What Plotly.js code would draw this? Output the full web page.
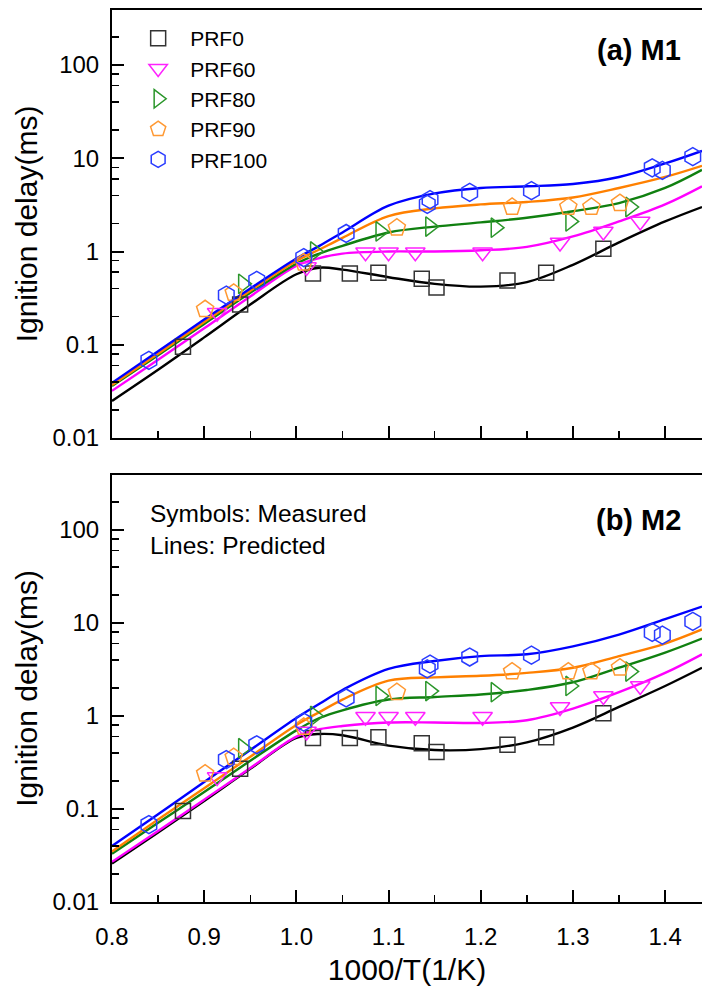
<!DOCTYPE html>
<html>
<head>
<meta charset="utf-8">
<script src="https://cdn.plot.ly/plotly-3.0.1.min.js"></script>
<style>html,body{margin:0;padding:0;background:#fff;}#chart{width:702px;height:989px;}</style>
</head>
<body>
<div id="chart"></div>
<script>
// ---- Measured data (same in both panels) ----
const seriesNames = ["PRF0", "PRF60", "PRF80", "PRF90", "PRF100"];
const prf0X = [0.877, 0.939, 1.018, 1.058, 1.089, 1.136, 1.152, 1.229, 1.271, 1.333];
const prf0Y = [0.095, 0.27, 0.58, 0.58, 0.59, 0.51, 0.41, 0.49, 0.59, 1.07];
const prf60X = [0.914, 1.011, 1.075, 1.100, 1.129, 1.202, 1.286, 1.333, 1.373];
const prf60Y = [0.22, 0.68, 0.98, 0.98, 0.98, 0.98, 1.25, 1.64, 2.1];
const prf80X = [0.942, 1.020, 1.091, 1.145, 1.216, 1.297, 1.362];
const prf80Y = [0.45, 1.0, 1.64, 1.85, 1.8, 2.1, 3.0];
const prf90X = [0.901, 0.932, 1.008, 1.109, 1.234, 1.295, 1.320, 1.351];
const prf90Y = [0.24, 0.36, 0.76, 1.8, 3.0, 3.0, 3.0, 3.3];
const prf100X = [0.840, 0.924, 0.957, 1.008, 1.054, 1.142, 1.145, 1.188, 1.255, 1.386, 1.397, 1.430];
const prf100Y = [0.068, 0.34, 0.49, 0.86, 1.56, 3.2, 3.6, 4.3, 4.5, 7.9, 7.4, 10.4];

// ---- Predicted curves ----
const curveX = [0.8, 0.85, 0.9, 0.95, 1.0, 1.025, 1.05, 1.1, 1.15, 1.2, 1.25, 1.3, 1.35, 1.4, 1.44];
// (a) M1
const m1Prf100 = [0.039, 0.085, 0.186, 0.40, 0.84, 1.15, 1.6, 3.1, 4.2, 4.8, 5.0, 5.3, 6.3, 8.8, 12];
const m1Prf90  = [0.037, 0.080, 0.175, 0.38, 0.79, 1.05, 1.4, 2.4, 2.9, 3.2, 3.4, 3.8, 4.8, 6.3, 8.3];
const m1Prf80  = [0.036, 0.077, 0.167, 0.36, 0.74, 0.95, 1.15, 1.6, 1.85, 2.05, 2.3, 2.7, 3.3, 4.8, 7.5];
const m1Prf60  = [0.032, 0.069, 0.150, 0.33, 0.70, 0.85, 0.95, 1.0, 1.0, 1.03, 1.12, 1.45, 2.1, 3.2, 5.0];
const m1Prf0   = [0.025, 0.054, 0.120, 0.27, 0.57, 0.67, 0.64, 0.53, 0.45, 0.42, 0.47, 0.72, 1.25, 2.1, 3.0];
// (b) M2
const m2Prf100 = [0.040, 0.088, 0.195, 0.43, 0.95, 1.35, 1.9, 3.2, 3.9, 4.4, 4.6, 5.6, 7.5, 11, 15];
const m2Prf90  = [0.035, 0.077, 0.167, 0.365, 0.80, 1.1, 1.5, 2.4, 2.6, 2.7, 2.9, 3.3, 4.4, 6.0, 8.5];
const m2Prf80  = [0.033, 0.071, 0.152, 0.33, 0.70, 0.95, 1.15, 1.5, 1.6, 1.7, 1.9, 2.3, 3.3, 4.8, 6.8];
const m2Prf60  = [0.027, 0.058, 0.126, 0.275, 0.60, 0.72, 0.78, 0.85, 0.85, 0.84, 0.9, 1.2, 1.8, 2.9, 4.6];
const m2Prf0   = [0.026, 0.056, 0.122, 0.27, 0.58, 0.64, 0.62, 0.48, 0.43, 0.44, 0.52, 0.75, 1.25, 2.1, 3.3];

const xTickVals = [0.8, 0.9, 1.0, 1.1, 1.2, 1.3, 1.4];
const xTickText = ["0.8", "0.9", "1.0", "1.1", "1.2", "1.3", "1.4"];
const yTickVals = [0.01, 0.1, 1, 10, 100];
const yTickText = ["0.01", "0.1", "1", "10", "100"];

const measX = [prf0X, prf60X, prf80X, prf90X, prf100X];
const measY = [prf0Y, prf60Y, prf80Y, prf90Y, prf100Y];
const symbols = ["square-open", "triangle-down-open", "triangle-right-open", "pentagon-open", "hexagon-open"];
const markerColors = ["#333333", "#ff22ff", "#2a962a", "#ff9933", "#2a3cff"];
const markerSizes = [15, 17, 17, 18, 18];
const lineColors = ["#000000", "#ff00ff", "#108010", "#ff8000", "#0000ff"];
const m1Curves = [m1Prf0, m1Prf60, m1Prf80, m1Prf90, m1Prf100];
const m2Curves = [m2Prf0, m2Prf60, m2Prf80, m2Prf90, m2Prf100];

const minorY = [];
[0.01, 0.1, 1, 10, 100].forEach(d => [2, 4, 6, 8].forEach(m => minorY.push(+(d * m).toPrecision(3))));
const minorX = [0.85, 0.95, 1.05, 1.15, 1.25, 1.35];

const traces = [];
[["x2", "y2", m1Curves, true], ["x", "y", m2Curves, false]].forEach(([xa, ya, curves, legend]) => {
  for (let i = 0; i < 5; i++) {
    traces.push({
      x: curveX, y: curves[i], xaxis: xa, yaxis: ya, mode: "lines",
      line: {color: lineColors[i], width: 2.4, shape: "spline", smoothing: 1.0},
      showlegend: false, hoverinfo: "skip"
    });
  }
  for (let i = 0; i < 5; i++) {
    traces.push({
      x: measX[i], y: measY[i], xaxis: xa, yaxis: ya, mode: "markers", name: seriesNames[i],
      marker: {symbol: symbols[i], size: markerSizes[i], color: markerColors[i], line: {width: 1.5, color: markerColors[i]}},
      showlegend: legend, legendgroup: seriesNames[i]
    });
  }
});

const font = "Liberation Sans, Arial, sans-serif";
const yCommon = {
  type: "log", range: [-2, 2.59], tickmode: "array", tickvals: yTickVals, ticktext: yTickText,
  ticks: "inside", ticklen: 12, tickwidth: 2, tickcolor: "#000",
  showline: true, linecolor: "#000", linewidth: 2, mirror: false, showgrid: false, zeroline: false,
  tickfont: {family: font, size: 24, color: "#000"}, ticklabelstandoff: 6,
  minor: {tickmode: "array", tickvals: minorY, ticks: "inside", ticklen: 7, tickwidth: 1.5, tickcolor: "#000", showgrid: false},
  title: {text: "Ignition delay(ms)", font: {family: font, size: 30, color: "#000"}, standoff: 6},
  automargin: false
};
const xCommon = {
  range: [0.8, 1.44], tickmode: "array", tickvals: xTickVals, ticktext: xTickText,
  ticks: "inside", ticklen: 12, tickwidth: 2, tickcolor: "#000",
  showline: true, linecolor: "#000", linewidth: 2, mirror: true, showgrid: false, zeroline: false,
  tickfont: {family: font, size: 24, color: "#000"},
  minor: {tickmode: "array", tickvals: minorX, ticks: "inside", ticklen: 7, tickwidth: 1.5, tickcolor: "#000", showgrid: false},
  automargin: false
};

const layout = {
  width: 702, height: 989,
  margin: {l: 112, r: 0, t: 10, b: 87},
  paper_bgcolor: "#fff", plot_bgcolor: "#fff",
  font: {family: font, color: "#000"},
  showlegend: true,
  legend: {x: 0.024, y: 0.991, xanchor: "left", yanchor: "top", bgcolor: "rgba(0,0,0,0)",
           font: {family: font, size: 21, color: "#000"}, tracegroupgap: 0, itemwidth: 54},
  xaxis: Object.assign({}, xCommon, {anchor: "y", domain: [0, 1], ticklabelstandoff: 12,
           title: {text: "1000/T(1/K)", font: {family: font, size: 30, color: "#000"}, standoff: 10}}),
  yaxis: Object.assign({}, yCommon, {anchor: "x", domain: [0, 0.4787]}),
  xaxis2: Object.assign({}, xCommon, {anchor: "y2", matches: "x", showticklabels: false}),
  yaxis2: Object.assign({}, yCommon, {anchor: "x2", domain: [0.5202, 1]}),
  annotations: [
    {text: "<b>(a) M1</b>", xref: "paper", yref: "paper", x: 0.893, y: (902 - 50) / 892, xanchor: "center", yanchor: "middle",
     showarrow: false, font: {family: font, size: 29, color: "#000"}},
    {text: "<b>(b) M2</b>", xref: "paper", yref: "paper", x: 0.893, y: (902 - 520) / 892, xanchor: "center", yanchor: "middle",
     showarrow: false, font: {family: font, size: 29, color: "#000"}},
    {text: "Symbols: Measured", xref: "paper", yref: "paper", x: (148 - 112) / 590, y: (902 - 513) / 892, xanchor: "left", yanchor: "middle",
     showarrow: false, font: {family: font, size: 24.5, color: "#000"}},
    {text: "Lines: Predicted", xref: "paper", yref: "paper", x: (148 - 112) / 590, y: (902 - 545) / 892, xanchor: "left", yanchor: "middle",
     showarrow: false, font: {family: font, size: 24.5, color: "#000"}}
  ]
};

Plotly.newPlot("chart", traces, layout, {displayModeBar: false, staticPlot: true});
</script>
</body>
</html>
